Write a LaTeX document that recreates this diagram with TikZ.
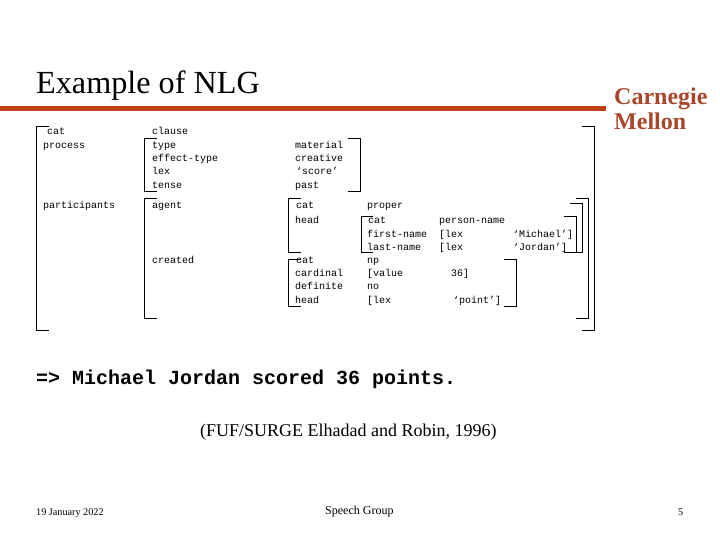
\documentclass[tikz,border=0pt]{standalone}
\usepackage{fontspec}
\setmainfont{Liberation Serif}
\setmonofont{Liberation Mono}
\definecolor{nlgRule}{HTML}{BE4214}
\definecolor{nlgLogo}{HTML}{A8472A}
\tikzset{
  fdtext/.style={anchor=base west, inner sep=0pt, text=black, font=\ttfamily\fontsize{10}{12}\selectfont},
  fdbrack/.style={draw=black, line width=1pt},
  slidetext/.style={anchor=base west, inner sep=0pt, font=\fontsize{#1}{#1}\selectfont},
}
% one square bracket: x of the spine, x of the tips, top, bottom
\newcommand{\fdbr}[4]{\draw[fdbrack] (#2,#3) -- (#1,#3) -- (#1,#4) -- (#2,#4);}

\begin{document}
\begin{tikzpicture}[x=1pt, y=-1pt]
\useasboundingbox (0,0) rectangle (720,540);

% Header -------------------------------------------------------------------
\node[slidetext=32.2] (title) at (36,94) {Example of NLG};
\fill[nlgRule] (0,105.8) rectangle (606,110.8);
\node[slidetext=24, text=nlgLogo, font=\bfseries\fontsize{24}{24}\selectfont] (logoa) at (614,105) {Carnegie};
\node[slidetext=24, text=nlgLogo, font=\bfseries\fontsize{24}{24}\selectfont] (logob) at (614,129.5) {Mellon};

% Feature structure --------------------------------------------------------
\node[fdtext] (cat1) at (47,135) {cat};
\node[fdtext] (process) at (43,149) {process};
\node[fdtext] (participants) at (43,208) {participants};

\node[fdtext] (clause) at (152,135) {clause};
\node[fdtext] (type) at (152,149) {type};
\node[fdtext] (efftype) at (152,162) {effect-type};
\node[fdtext] (lex1) at (152,175) {lex};
\node[fdtext] (tense) at (152,189) {tense};
\node[fdtext] (agent) at (152,208) {agent};
\node[fdtext] (created) at (152,263) {created};

\node[fdtext] (material) at (295,149) {material};
\node[fdtext] (creative) at (295,162) {creative};
\node[fdtext] (score) at (296,175) {‘score’};
\node[fdtext] (past) at (295,189) {past};
\node[fdtext] (cat2) at (296,208) {cat};
\node[fdtext] (head1) at (295,223) {head};
\node[fdtext] (cat3) at (296,263) {cat};
\node[fdtext] (cardinal) at (295,276) {cardinal};
\node[fdtext] (definite) at (295,289) {definite};
\node[fdtext] (head2) at (295,303) {head};

\node[fdtext] (proper) at (367,208) {proper};
\node[fdtext] (cat4) at (368,223) {cat};
\node[fdtext] (firstname) at (367,237) {first-name};
\node[fdtext] (lastname) at (367,250) {last-name};
\node[fdtext] (np) at (367,263) {np};
\node[fdtext] (value) at (367,276) {[value};
\node[fdtext] (no) at (367,289) {no};
\node[fdtext] (lex2) at (367,303) {[lex};

\node[fdtext] (person) at (439,223) {person-name};
\node[fdtext] (lex3) at (439,237) {[lex};
\node[fdtext] (lex4) at (439,250) {[lex};
\node[fdtext] (num) at (451,276) {36]};
\node[fdtext] (point) at (453,303) {‘point’]};
\node[fdtext] (michael) at (513,237) {‘Michael’]};
\node[fdtext] (jordan) at (513,250) {‘Jordan’]};

% Brackets -----------------------------------------------------------------
\fdbr{36.5}{49}{127}{330}
\fdbr{594}{582}{127}{330}
\fdbr{144.5}{157}{139}{192}
\fdbr{360.5}{348}{139}{192}
\fdbr{144.5}{157}{198.5}{318}
\fdbr{588}{576}{198.5}{318}
\fdbr{288.5}{301}{198.5}{252}
\fdbr{582}{570}{204}{252}
\fdbr{361}{373}{217}{252}
\fdbr{576.5}{564}{217}{252}
\fdbr{288.5}{301}{259}{306}
\fdbr{516}{504}{259}{306}

% Result and footer --------------------------------------------------------
\node[fdtext, font=\ttfamily\bfseries\fontsize{20}{20}\selectfont] (result) at (36,384) {=> Michael Jordan scored 36 points.};
\node[slidetext=18] (cite) at (200,436) {(FUF/SURGE Elhadad and Robin, 1996)};
\node[slidetext=10.2] (date) at (36,515) {19 January 2022};
\node[slidetext=12] (group) at (325,514) {Speech Group};
\node[slidetext=10.2] (page) at (678,515) {5};
\end{tikzpicture}
\end{document}
